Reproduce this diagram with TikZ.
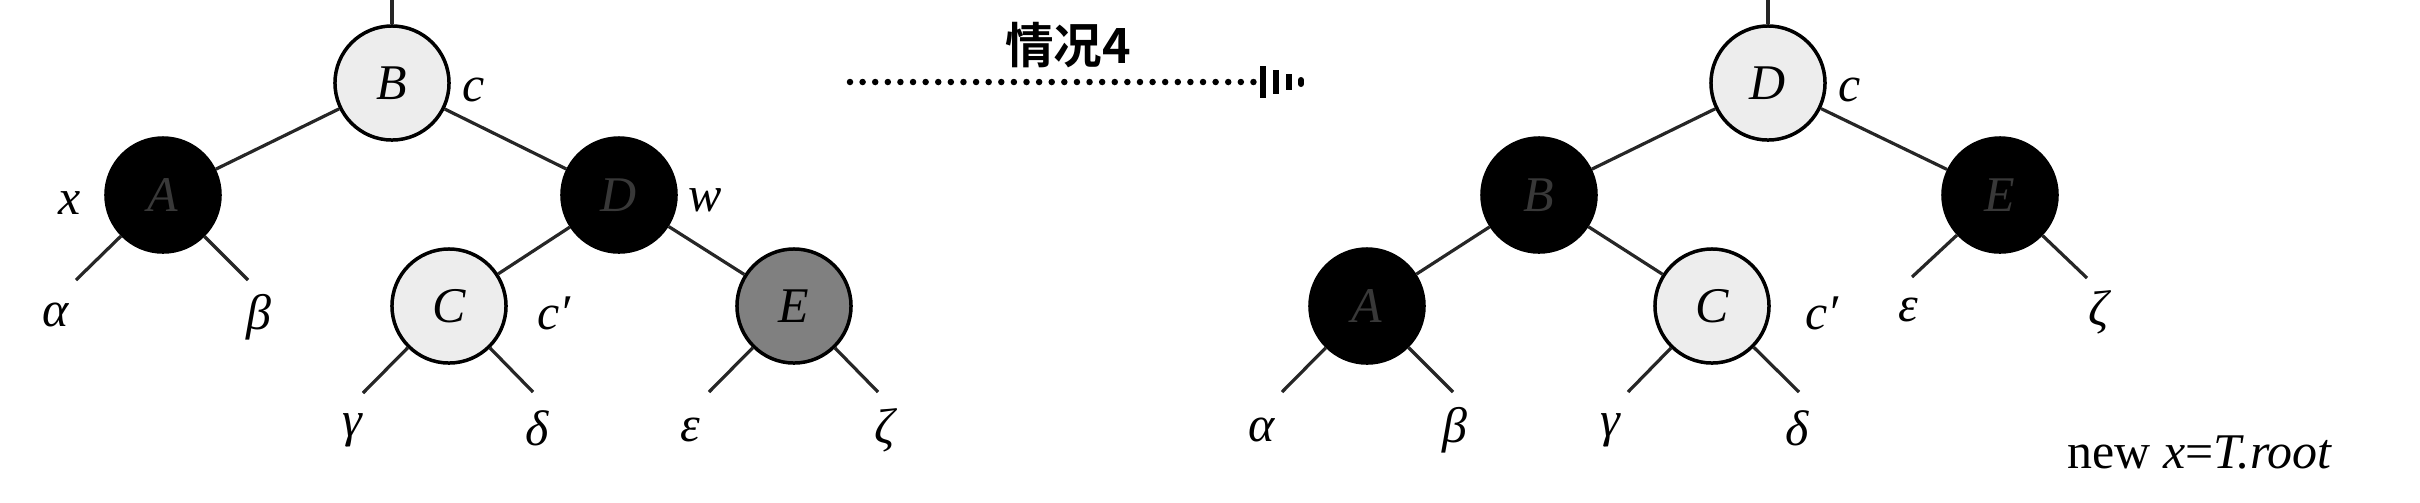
\documentclass[tikz,border=0pt]{standalone}
\usepackage{fontspec}
\setmainfont{Liberation Serif}
\newfontfamily\cjk{Noto Sans CJK SC}[BoldFont={Noto Sans CJK SC Bold}]
\usetikzlibrary{calc}
\begin{document}
\begin{tikzpicture}[x=0.01cm,y=-0.01cm,
  rb/.style={circle,draw=black,line width=0.035cm,minimum size=1.14cm,inner sep=0pt,font=\fontsize{14.2}{16}\selectfont\itshape},
  rednode/.style={rb,fill=black!7,text=black},
  blacknode/.style={rb,fill=black,text=black!78},
  graynode/.style={rb,fill=black!50,text=black},
  lbl/.style={inner sep=0pt,font=\fontsize{14.2}{16}\selectfont\itshape},
  edge/.style={line width=0.032cm,black!85},
  dotline/.style={line width=0.065cm,line cap=round,dash pattern=on 0pt off 0.126cm},
  tipbar/.style={line width=0.06cm}]
\useasboundingbox (0,0) rectangle (2420,502);
% ---------- left tree ----------
\node[rednode] (LB) at (392,83) {B};
\node[blacknode] (LA) at (163,195) {A};
\node[blacknode] (LD) at (619,195) {D};
\node[rednode] (LC) at (449,306) {C};
\node[graynode] (LE) at (794,306) {E};
\coordinate (LTop) at (392,0);
\coordinate (La) at (76,280);
\coordinate (Lb) at (248,280);
\coordinate (Lg) at (363,393);
\coordinate (Ld) at (533,392);
\coordinate (Le) at (709,392);
\coordinate (Lz) at (878,392);
\draw[edge] (LTop) -- (LB);
\draw[edge] (LB) -- (LA);
\draw[edge] (LB) -- (LD);
\draw[edge] (LD) -- (LC);
\draw[edge] (LD) -- (LE);
\draw[edge] (LA) -- (La);
\draw[edge] (LA) -- (Lb);
\draw[edge] (LC) -- (Lg);
\draw[edge] (LC) -- (Ld);
\draw[edge] (LE) -- (Le);
\draw[edge] (LE) -- (Lz);
\node[lbl] (Lx) at (70,203) {x};
\node[lbl] (Lc) at (474,90) {c};
\node[lbl] (Lw) at (705,200) {w};
\node[lbl] (Lcp) at (554,313) {c′};
\node[lbl] (Lal) at (56,315) {α};
\node[lbl] (Lbe) at (259,317) {β};
\node[lbl] (Lga) at (352,430) {γ};
\node[lbl] (Lde) at (537,428) {δ};
\node[lbl] (Lep) at (690,430) {ε};
\node[lbl] (Lze) at (885,430) {ζ};
% ---------- arrow ----------
\node[font=\cjk\bfseries\fontsize{13.8}{16}\selectfont] (case) at (1068,45) {情况4};
\coordinate (arS) at (850,82);
\coordinate (arE) at (1258,82);
\draw[dotline] (arS) -- (arE);
\draw[tipbar] (1263,66) -- (1263,98);
\draw[tipbar] (1276,70) -- (1276,94);
\draw[tipbar] (1289,74) -- (1289,90);
\draw[tipbar,line cap=round] (1301,80) -- (1301,84);
% ---------- right tree ----------
\node[rednode] (RD) at (1768,83) {D};
\node[blacknode] (RB) at (1539,195) {B};
\node[blacknode] (RE) at (2000,195) {E};
\node[blacknode] (RA) at (1367,306) {A};
\node[rednode] (RC) at (1712,306) {C};
\coordinate (RTop) at (1768,0);
\coordinate (Ra) at (1282,392);
\coordinate (Rb) at (1453,392);
\coordinate (Rg) at (1628,392);
\coordinate (Rd) at (1799,392);
\coordinate (Re) at (1912,277);
\coordinate (Rz) at (2087,278);
\draw[edge] (RTop) -- (RD);
\draw[edge] (RD) -- (RB);
\draw[edge] (RD) -- (RE);
\draw[edge] (RB) -- (RA);
\draw[edge] (RB) -- (RC);
\draw[edge] (RA) -- (Ra);
\draw[edge] (RA) -- (Rb);
\draw[edge] (RC) -- (Rg);
\draw[edge] (RC) -- (Rd);
\draw[edge] (RE) -- (Re);
\draw[edge] (RE) -- (Rz);
\node[lbl] (Rc) at (1850,90) {c};
\node[lbl] (Rcp) at (1822,313) {c′};
\node[lbl] (Rep) at (1908,310) {ε};
\node[lbl] (Rze) at (2099,312) {ζ};
\node[lbl] (Ral) at (1262,430) {α};
\node[lbl] (Rbe) at (1455,430) {β};
\node[lbl] (Rga) at (1610,430) {γ};
\node[lbl] (Rde) at (1797,428) {δ};
\node[inner sep=0pt,font=\fontsize{14.2}{16}\selectfont] (root) at (2200,452) {new \textit{x}=\textit{T.root}};
\end{tikzpicture}
\end{document}
